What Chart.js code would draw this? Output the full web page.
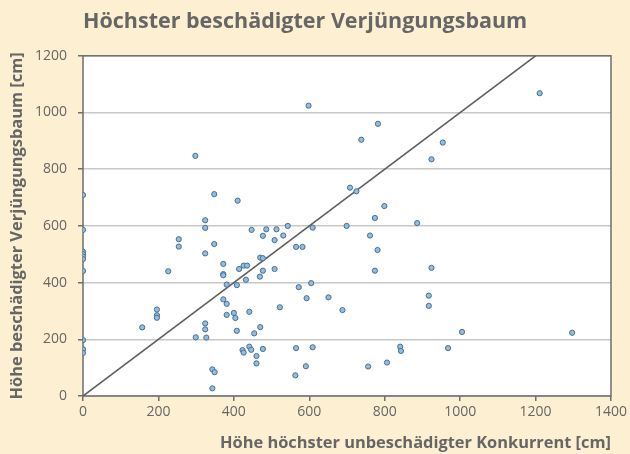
<!DOCTYPE html>
<html>
<head>
<meta charset="utf-8">
<script src="https://cdn.jsdelivr.net/npm/chart.js@4.4.1/dist/chart.umd.min.js"></script>
<style>
  html, body { margin: 0; padding: 0; background: #fdefd1; }
  #wrap { width: 630px; height: 454px; position: relative; }
</style>
</head>
<body>
<div id="wrap"><canvas id="c"></canvas></div>
<script>
// Höhe höchster unbeschädigter Konkurrent [cm]
const xValues = [
  0, 0, 0, 0, 0, 0, 0, 0, 0, 0,
  157, 196, 196, 196, 226, 254, 254, 298, 299,
  324, 324, 324, 324, 324, 327, 343, 349, 343, 348, 348,
  372, 372, 372, 372, 381, 381, 381, 400, 404, 408, 408, 410, 414,
  423, 426, 426, 435, 432, 441, 441, 446, 447, 454, 460, 460,
  469, 470, 477, 470, 477, 477, 477, 486, 508, 508, 513, 522, 531, 543,
  565, 565, 563, 572, 582, 591, 593, 598, 605, 609, 609,
  651, 688, 699, 708, 725, 738, 756, 761, 774, 774, 781, 782, 799, 806,
  841, 843, 886, 917, 917, 924, 924, 954, 968, 1005, 1211, 1297
];
// Höhe beschädigter Verjüngungsbaum [cm]
const yValues = [
  709, 586, 509, 501, 492, 483, 441, 197, 165, 152,
  242, 305, 285, 276, 440, 553, 527, 847, 207,
  620, 593, 503, 256, 235, 206, 94, 84, 27, 712, 536,
  466, 430, 426, 341, 393, 325, 286, 293, 275, 391, 230, 689, 448,
  162, 153, 460, 460, 410, 297, 174, 163, 586, 221, 141, 115,
  421, 488, 486, 243, 565, 442, 166, 588, 550, 448, 588, 313, 566, 600,
  526, 169, 73, 384, 526, 105, 345, 1024, 398, 594, 172,
  348, 303, 600, 735, 722, 904, 104, 566, 628, 442, 515, 960, 670, 118,
  174, 159, 610, 354, 318, 835, 452, 894, 169, 226, 1068, 223
];
// 1:1 reference line
const lineX = [0, 1200];
const lineY = [0, 1200];
// axis ticks
const xTicks = [0, 200, 400, 600, 800, 1000, 1200, 1400];
const yTicks = [0, 200, 400, 600, 800, 1000, 1200];

const TEXT = '#666666';
const AXIS = '#6e6e6e';

const scatterData = xValues.map((x, i) => ({ x: x, y: yValues[i] }));
const lineData = lineX.map((x, i) => ({ x: x, y: lineY[i] }));

const plotBg = {
  id: 'plotBg',
  beforeDraw(chart) {
    const a = chart.chartArea, ctx = chart.ctx;
    ctx.save();
    ctx.fillStyle = '#ffffff';
    ctx.fillRect(a.left, a.top, a.right - a.left, a.bottom - a.top);
    ctx.restore();
  },
  beforeDatasetsDraw(chart) {
    const a = chart.chartArea, ctx = chart.ctx;
    ctx.save();
    ctx.strokeStyle = AXIS;
    ctx.lineWidth = 1.5;
    ctx.strokeRect(a.left, a.top, a.right - a.left, a.bottom - a.top);
    ctx.restore();
  }
};

new Chart(document.getElementById('c'), {
  data: {
    datasets: [
      {
        type: 'line',
        data: lineData,
        borderColor: '#5e5e5e',
        borderWidth: 1.6,
        pointRadius: 0,
        fill: false,
        order: 2
      },
      {
        type: 'scatter',
        data: scatterData,
        pointRadius: 2.6,
        pointBackgroundColor: '#8fbde3',
        pointBorderColor: '#4e6f8e',
        pointBorderWidth: 1,
        order: 1
      }
    ]
  },
  options: {
    responsive: true,
    maintainAspectRatio: false,
    animation: false,
    layout: { padding: { left: 0, right: 18, top: 0, bottom: 0 } },
    plugins: {
      legend: { display: false },
      tooltip: { enabled: false },
      title: {
        display: true,
        text: 'Höchster beschädigter Verjüngungsbaum',
        align: 'start',
        fullSize: false,
        color: TEXT,
        font: { family: 'Open Sans', size: 21.5, weight: 'bold', lineHeight: 1.2 },
        padding: { top: 9, bottom: 21 }
      }
    },
    scales: {
      x: {
        type: 'linear',
        min: 0, max: 1400,
        afterBuildTicks: s => { s.ticks = xTicks.map(v => ({ value: v })); },
        afterFit: s => { s.height = 58; },
        ticks: { color: TEXT, padding: 3, font: { family: 'Open Sans', size: 14 }, callback: v => String(v) },
        grid: { drawOnChartArea: false, drawTicks: true, tickLength: 5, tickColor: AXIS, color: AXIS, lineWidth: 1.5 },
        border: { display: false },
        title: {
          display: true,
          text: 'Höhe höchster unbeschädigter Konkurrent [cm]',
          align: 'end',
          color: TEXT,
          font: { family: 'Open Sans', size: 16.4, weight: 'bold', lineHeight: 1.2 },
          padding: { top: 0, bottom: 1 }
        }
      },
      y: {
        type: 'linear',
        min: 0, max: 1200,
        afterBuildTicks: s => { s.ticks = yTicks.map(v => ({ value: v })); },
        afterFit: s => { s.width = 83; },
        ticks: { color: TEXT, padding: 11, font: { family: 'Open Sans', size: 14 }, callback: v => String(v) },
        grid: { drawTicks: true, tickLength: 5, tickColor: AXIS, color: '#c8c8c8', lineWidth: 1.5 },
        border: { display: false },
        title: {
          display: true,
          text: 'Höhe beschädigter Verjüngungsbaum [cm]',
          color: TEXT,
          font: { family: 'Open Sans', size: 16.4, weight: 'bold', lineHeight: 1.2 },
          padding: { top: 7, bottom: 0 }
        }
      }
    }
  },
  plugins: [plotBg]
});
</script>
</body>
</html>
